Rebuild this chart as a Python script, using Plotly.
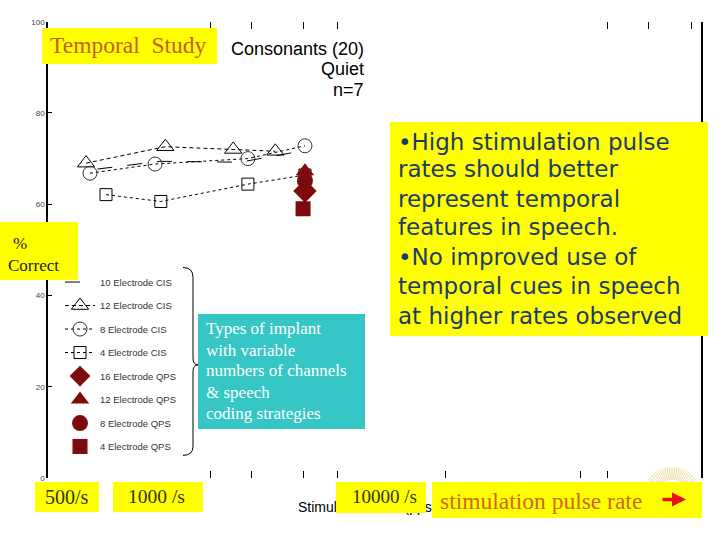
import math
import plotly.graph_objects as go

W, H = 720, 540

# ---------------- data ----------------
series_names = ["10 Electrode CIS", "12 Electrode CIS", "8 Electrode CIS", "4 Electrode CIS",
                "16 Electrode QPS", "12 Electrode QPS", "8 Electrode QPS", "4 Electrode QPS"]

cis10_rate = [540, 1030, 2360, 4390]
cis10_pct = [67.7, 69.4, 69.2, 71.6]

cis12_rate = [480, 1090, 2200, 3400]
cis12_pct = [69.0, 72.6, 72.0, 71.6]

cis8_rate = [500, 980, 2560, 4620]
cis8_pct = [66.8, 68.8, 70.0, 72.8]

cis4_rate = [590, 1040, 2560, 4620]
cis4_pct = [62.1, 60.6, 64.4, 66.4]

qps_rate = [4620, 4620, 4620, 4530]   # 16, 12, 8, 4 electrode QPS
qps_pct = [62.9, 67.2, 65.1, 59.0]

bottom_ticks = [1730, 2670, 4530, 6440, 19700, 79500, 106000]
top_ticks = [1730, 2670, 4530, 6440, 106000, 162000, 251000]
y_ticks = [0, 20, 40, 60, 80, 100]

DARK_RED = "#7d0b0b"

# ---------------- helpers ----------------
def px(x):
    return x / W


def py(y):
    return 1 - y / H


fig = go.Figure()

fig.add_trace(go.Scatter(x=cis10_rate, y=cis10_pct, name=series_names[0], mode="lines",
                         line=dict(color="black", width=1, dash="longdash"), legendgroup="a"))
fig.add_trace(go.Scatter(x=cis12_rate, y=cis12_pct, name=series_names[1], mode="lines+markers",
                         line=dict(color="black", width=1, dash="4px,3px"),
                         marker=dict(symbol="triangle-up-open", size=15, color="black", line=dict(width=1)),
                         legendgroup="b"))
fig.add_trace(go.Scatter(x=cis8_rate, y=cis8_pct, name=series_names[2], mode="lines+markers",
                         line=dict(color="black", width=1, dash="3px,3px"),
                         marker=dict(symbol="circle-open", size=14, color="#333", line=dict(width=1)),
                         legendgroup="c"))
fig.add_trace(go.Scatter(x=cis4_rate, y=cis4_pct, name=series_names[3], mode="lines+markers",
                         line=dict(color="black", width=1, dash="3px,3px"),
                         marker=dict(symbol="square-open", size=12, color="black", line=dict(width=1)),
                         legendgroup="d"))

qps_symbols = ["diamond", "triangle-up", "circle", "square"]
qps_sizes = [18, 16, 16, 15]
for i in range(4):
    fig.add_trace(go.Scatter(x=[qps_rate[i]], y=[qps_pct[i]], name=series_names[4 + i], mode="markers",
                             marker=dict(symbol=qps_symbols[i], size=qps_sizes[i], color=DARK_RED,
                                         line=dict(width=0)),
                             xaxis="x2", legendgroup="q%d" % i))

# ---------------- annotations ----------------
ann = []


def box(x0, y0, x1, y1, color):
    ann.append(dict(xref="paper", yref="paper", x=px(x0), y=py(y0), xanchor="left", yanchor="top",
                    width=x1 - x0, height=y1 - y0, bgcolor=color, text=" ", showarrow=False,
                    borderpad=0, borderwidth=0))


def label(x, y, text, size, color, family, xanchor="left", yanchor="middle", align="left"):
    ann.append(dict(xref="paper", yref="paper", x=px(x), y=py(y), xanchor=xanchor, yanchor=yanchor,
                    text=text, showarrow=False, align=align, borderpad=0,
                    font=dict(size=size, color=color, family=family)))


SERIF = "Liberation Serif, Times New Roman, serif"
SANS = "Liberation Sans, Arial, sans-serif"
COMIC = "DejaVu Sans, sans-serif"
YEL = "#ffff00"

# axis title (partly hidden behind boxes)
label(297, 512, "Stimulation Rate (pps)", 14, "black", SANS)

# header text
label(365, 46, "Consonants (20)", 18, "black", SANS, xanchor="right")
label(365, 66, "Quiet", 18, "black", SANS, xanchor="right")
label(365, 87, "n=7", 18, "black", SANS, xanchor="right")

# Temporal study
box(42, 24, 217, 60, YEL)
label(49, 42, "Temporal  Study", 23.5, "#c4601c", SERIF)

# % Correct
box(0, 222, 78, 280, YEL)
label(12, 244, "%", 17, "#222", SERIF)
label(7, 266, "Correct", 17, "#222", SERIF)

# teal box
box(198, 315, 365, 430, "#36c6c6")
teal_lines = ["Types of implant", "with variable", "numbers of channels", "&amp; speech", "coding strategies"]
teal_y = [330, 352, 373, 395, 416]
for t, yy in zip(teal_lines, teal_y):
    label(205, yy, t, 17, "white", SERIF)

# big yellow box
box(390, 120, 708, 334, YEL)
bullet_lines = ["•High stimulation pulse", "rates should better", "represent temporal",
                "features in speech.", "•No improved use of", "temporal cues in speech",
                "at higher rates observed"]
bullet_y = [140, 168, 198, 227, 257, 287, 317]
for t, yy in zip(bullet_lines, bullet_y):
    label(397, yy, t, 23, "#1b3a6b", COMIC)

# bottom boxes
box(35, 486, 99, 516, YEL)
label(67, 501, "500/s", 20, "#333322", SERIF, xanchor="center")
box(113, 486, 203, 516, YEL)
label(156, 501, "1000 /s", 19.5, "#333322", SERIF, xanchor="center")
box(336, 486, 426, 517, YEL)
label(384, 501, "10000 /s", 19, "#333322", SERIF, xanchor="center")
box(432, 486, 702, 522, YEL)
label(439, 505, "stimulation pulse rate", 23.5, "#d0681a", SERIF)
ann.append(dict(xref="paper", yref="paper", x=px(686), y=py(504), ax=-25, ay=0,
                axref="pixel", ayref="pixel", text="", showarrow=True, arrowhead=2,
                arrowsize=0.8, arrowwidth=3.5, arrowcolor="#e8101a"))

# ---------------- shapes ----------------
shapes = []
# brace
pts = "M{},{} Q{},{} {},{} L{},{} Q{},{} {},{} Q{},{} {},{} L{},{} Q{},{} {},{}".format(
    px(183), py(268), px(193), py(268), px(193), py(278),
    px(193), py(360),
    px(193), py(367), px(198), py(367),
    px(193), py(367), px(193), py(374),
    px(193), py(450),
    px(193), py(459), px(183), py(459))
shapes.append(dict(type="path", xref="paper", yref="paper", path=pts,
                   line=dict(color="black", width=1)))

# faint sunburst decoration
cx, cy = 672, 500
for a in range(35, 150, 5):
    r = math.radians(a)
    shapes.append(dict(type="line", xref="paper", yref="paper",
                       x0=px(cx + 16 * math.cos(r)), y0=py(cy - 16 * math.sin(r)),
                       x1=px(cx + 29 * math.cos(r)), y1=py(cy - 29 * math.sin(r)),
                       line=dict(color="#e9dba0", width=1)))

# ---------------- layout ----------------
xr = [2.5103, 5.4438]
xdom = [48 / W, 701 / W]
ydom = [1 - 482 / H, 1 - 18 / H]

fig.update_layout(
    width=W, height=H, autosize=False,
    margin=dict(l=0, r=0, t=0, b=0),
    paper_bgcolor="white", plot_bgcolor="white",
    showlegend=True,
    legend=dict(x=px(60), y=py(268), xanchor="left", yanchor="top",
                font=dict(size=9.5, color="#333", family=SANS),
                bgcolor="rgba(0,0,0,0)", traceorder="grouped", tracegroupgap=4.5,
                itemsizing="trace"),
    xaxis=dict(type="log", range=xr, domain=xdom, showline=False, showgrid=False, zeroline=False,
               tickvals=bottom_ticks, showticklabels=False, ticks="inside", ticklen=7,
               tickcolor="black", tickwidth=1, anchor="y"),
    xaxis2=dict(type="log", range=xr, domain=xdom, overlaying="x", side="top", showline=False,
                showgrid=False, zeroline=False, tickvals=top_ticks, showticklabels=False,
                ticks="inside", ticklen=7, tickcolor="black", tickwidth=1, anchor="y"),
    yaxis=dict(range=[0, 100], domain=ydom, showline=True, linecolor="black", linewidth=1.5,
               mirror=True, showgrid=False, zeroline=False, tickvals=y_ticks, ticks="inside",
               ticklen=4, tickcolor="black", tickfont=dict(size=8, color="#444", family=SANS)),
    annotations=ann,
    shapes=shapes,
)

fig.write_html("out.html", config={"displayModeBar": False},
               post_script="document.body.style.margin='0';document.body.style.overflow='hidden';")
